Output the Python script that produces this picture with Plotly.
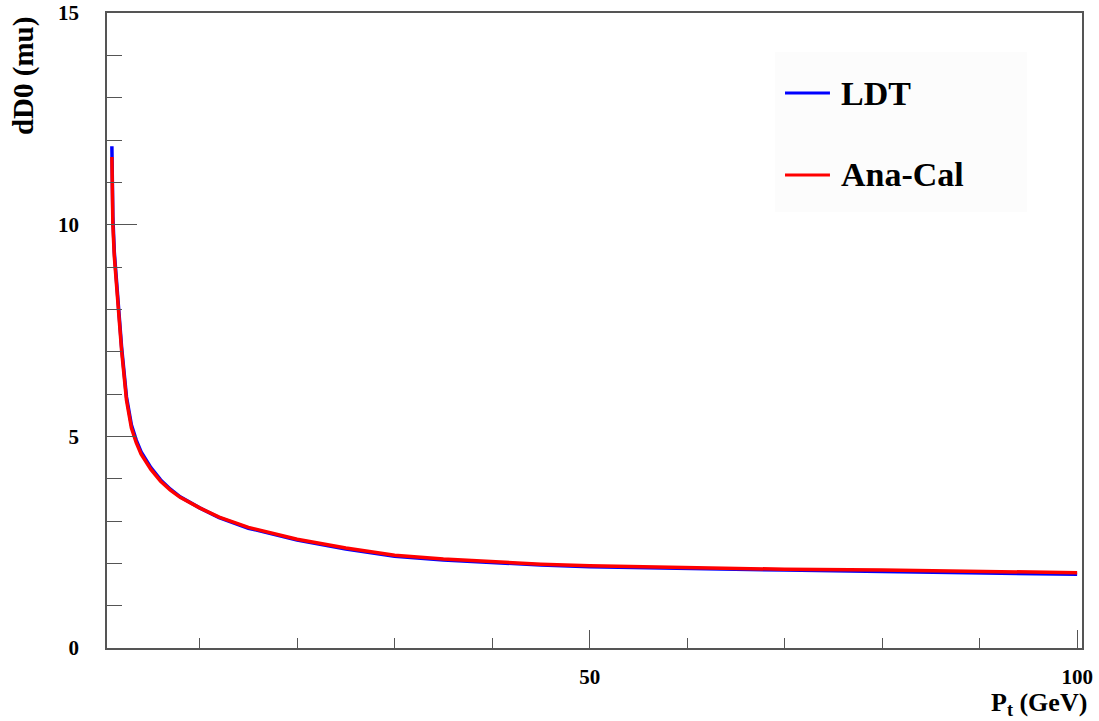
import plotly.graph_objects as go

pt = [1, 1.1, 1.25, 1.5, 1.75, 2, 2.5, 3, 3.5, 4, 5, 6, 7, 8, 10, 12, 15, 20, 25,
      30, 35, 40, 45, 50, 60, 70, 80, 90, 100]
ana_cal = [11.60, 10.0, 9.25, 8.45, 7.65, 7.02, 5.85, 5.20, 4.85, 4.58, 4.22, 3.94, 3.73,
           3.56, 3.31, 3.09, 2.85, 2.57, 2.36, 2.19, 2.10, 2.03, 1.98, 1.94, 1.89,
           1.86, 1.84, 1.81, 1.78]
ldt = [11.85, 10.2, 9.35, 8.55, 7.75, 7.10, 5.93, 5.27, 4.91, 4.63, 4.26, 3.97, 3.75,
       3.57, 3.31, 3.08, 2.83, 2.55, 2.34, 2.17, 2.08, 2.01, 1.96, 1.92, 1.87,
       1.84, 1.81, 1.78, 1.74]
series_names = ["LDT", "Ana-Cal"]
series_colors = ["#0000ff", "#ff0000"]

serif = "Liberation Serif"

fig = go.Figure()
for name, ys, col in zip(series_names, [ldt, ana_cal], series_colors):
    fig.add_trace(go.Scatter(x=pt, y=ys, mode="lines", name=name,
                             line=dict(color=col, width=3.5)))

axis_common = dict(showgrid=False, zeroline=False, showline=True, linecolor="#555555",
                   linewidth=1.5, mirror=True, ticks="inside", tickcolor="#555555",
                   tickwidth=1.2, automargin=False,
                   tickfont=dict(family=serif, size=21, color="black", weight="bold"))

fig.update_xaxes(range=[0.5, 100.5], tick0=0, dtick=50, ticklen=18,
                 minor=dict(dtick=10, tick0=0, ticklen=10, ticks="inside",
                            tickcolor="#555555", tickwidth=1.2),
                 ticklabelstandoff=9, **axis_common)
fig.update_yaxes(range=[0, 15], tick0=0, dtick=5, ticklen=30,
                 minor=dict(dtick=1, tick0=0, ticklen=15, ticks="inside",
                            tickcolor="#555555", tickwidth=1.2),
                 ticklabelstandoff=22, **axis_common)

fig.add_annotation(text="P<sub>t</sub> (GeV)", xref="paper", yref="paper",
                   x=1.007, y=-0.088, xanchor="right", yanchor="middle", showarrow=False,
                   font=dict(family=serif, size=26, color="black", weight="bold"))
fig.add_annotation(text="dD0 (mu)", xref="paper", yref="paper", textangle=-90,
                   x=-0.085, y=0.997, xanchor="center", yanchor="top", showarrow=False,
                   font=dict(family=serif, size=29, color="black", weight="bold"))

# legend box (manual, ROOT-style)
fig.add_shape(type="rect", xref="paper", yref="paper", x0=0.685, x1=0.9436,
              y0=0.6866, y1=0.9386, fillcolor="rgb(252,252,252)", line=dict(width=0),
              layer="below")
leg_y = [0.874, 0.745]
for name, col, yy in zip(series_names, series_colors, leg_y):
    fig.add_shape(type="line", xref="paper", yref="paper", x0=0.6954, x1=0.7415,
                  y0=yy, y1=yy, line=dict(color=col, width=3))
    fig.add_annotation(text=name, xref="paper", yref="paper", x=0.7508, y=yy,
                       xanchor="left", yanchor="middle", showarrow=False,
                       font=dict(family=serif, size=34, color="black", weight="bold"))

fig.update_layout(
    autosize=True,
    margin=dict(l=107, r=17, t=13, b=73, autoexpand=False),
    paper_bgcolor="white", plot_bgcolor="white",
    showlegend=False,
)

fig.write_html("out.html", default_width="100%", default_height="100%")
